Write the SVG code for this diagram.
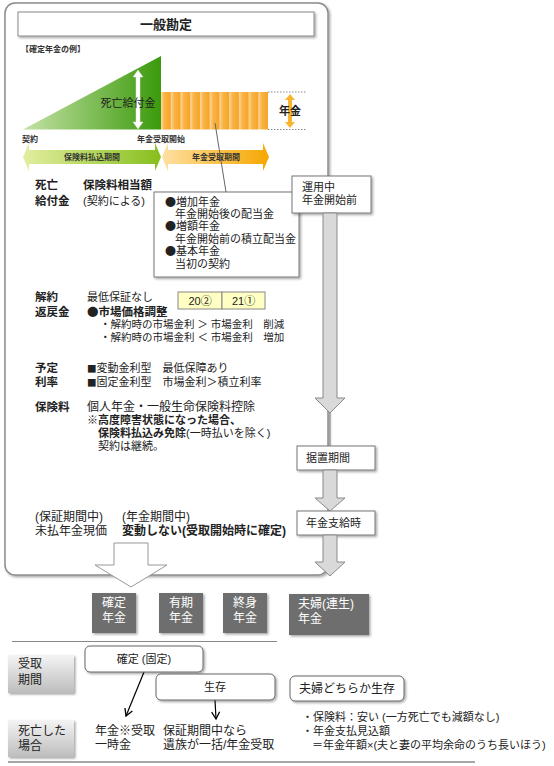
<svg xmlns="http://www.w3.org/2000/svg" width="554" height="766" viewBox="0 0 554 766">
<defs>
<style>
.t{font-family:"Liberation Sans","Noto Sans CJK JP",sans-serif;font-size:11px;fill:#222}
.j{font-family:"Noto Sans CJK JP",sans-serif}
.b{font-weight:bold}
.s{font-size:8px;font-weight:bold;fill:#333}
.w{fill:#fff;font-size:12px}
.box{fill:#fff;stroke:#777;stroke-width:1}
.gbox{fill:#6e6e6e}
.garrow{fill:#d9d9d9;stroke:#8a8a8a;stroke-width:1}
</style>
<filter id="sh" x="-10%" y="-10%" width="130%" height="140%">
<feDropShadow dx="1.5" dy="1.5" stdDeviation="1" flood-color="#000" flood-opacity="0.35"/>
</filter>
<linearGradient id="gTri" x1="0" y1="0" x2="1" y2="0">
<stop offset="0" stop-color="#c5e2a6"/>
<stop offset="1" stop-color="#3b9a0c"/>
</linearGradient>
<linearGradient id="gStripe" x1="0" y1="0" x2="1" y2="0">
<stop offset="0" stop-color="#fdd9a2"/>
<stop offset="0.35" stop-color="#f9b447"/>
<stop offset="1" stop-color="#f6a425"/>
</linearGradient>
<pattern id="pStripe" patternUnits="userSpaceOnUse" x="161" y="0" width="9.73" height="200">
<rect x="0" y="0" width="9.73" height="200" fill="url(#gStripe)"/>
</pattern>
<linearGradient id="gGreenArr" x1="0" y1="0" x2="1" y2="0">
<stop offset="0" stop-color="#e2eea0"/>
<stop offset="1" stop-color="#86bf1c"/>
</linearGradient>
<linearGradient id="gOrArr" x1="0" y1="0" x2="1" y2="0">
<stop offset="0" stop-color="#fde0a2"/>
<stop offset="1" stop-color="#f6a700"/>
</linearGradient>
<linearGradient id="gLabel" x1="0" y1="0" x2="0" y2="1">
<stop offset="0" stop-color="#f4f4f4"/>
<stop offset="1" stop-color="#bdbdbd"/>
</linearGradient>
<marker id="mV" markerWidth="10" markerHeight="10" refX="8" refY="5" orient="auto" markerUnits="userSpaceOnUse">
<path d="M1,1 L8,5 L1,9" fill="none" stroke="#000" stroke-width="1.3"/>
</marker>
</defs>

<g id="main-box">
<rect x="5" y="3" width="323" height="572" rx="10" fill="#fff" stroke="#8c8c8c" stroke-width="1.5" filter="url(#sh)"/>
</g>

<g id="title">
<rect x="18" y="12" width="296" height="24" fill="#fff" stroke="#888" stroke-width="1" filter="url(#sh)"/>
<text class="t b" x="166" y="29" text-anchor="middle" style="font-size:13px">一般勘定</text>
</g>

<g id="chart">
<text class="t s" x="21" y="52">【確定年金の例】</text>
<polygon points="23,129.5 161,56 161,129.5" fill="url(#gTri)"/>
<polygon points="138,70 143,77 140,77 140,122 143,122 138,129 133,122 136,122 136,77 133,77" fill="#fff" stroke="#ddd" stroke-width="0.5"/>
<text class="t" x="128" y="107" text-anchor="middle">死亡給付金</text>
<rect x="161" y="92" width="107" height="37.5" fill="url(#pStripe)"/>
<line x1="268" y1="92" x2="307" y2="92" stroke="#888" stroke-dasharray="1.5,1.5"/>
<line x1="268" y1="129.5" x2="307" y2="129.5" stroke="#888" stroke-dasharray="1.5,1.5"/>
<polygon points="290,94 295,100 292,100 292,122 295,122 290,128 285,122 288,122 288,100 285,100" fill="#f8b530"/>
<text class="t b" x="279" y="115">年金</text>
<text class="t s" x="22" y="142">契約</text>
<text class="t s" x="137" y="142">年金受取開始</text>
<polygon points="23,157 29,143 29,150 155,150 155,143 161,157 155,171 155,164 29,164 29,171" fill="url(#gGreenArr)"/>
<text class="t s" x="92" y="160" text-anchor="middle">保険料払込期間</text>
<polygon points="162,157 168,143 168,150 263,150 263,143 269,157 263,171 263,164 168,164 168,171" fill="url(#gOrArr)"/>
<text class="t s" x="216" y="160" text-anchor="middle">年金受取期間</text>
</g>

<g id="death-benefit">
<text class="t b" x="35" y="189" style="font-size:11.5px">死亡</text>
<text class="t b" x="35" y="205" style="font-size:11.5px">給付金</text>
<text class="t b" x="83" y="189" style="font-size:11.5px">保険料相当額</text>
<text class="t" x="83" y="205">(契約による)</text>
</g>

<g id="bullet-box">
<rect class="box" x="154" y="192" width="145" height="85" filter="url(#sh)"/>
<text class="t" x="165" y="206"><tspan class="j">●</tspan>増加年金</text>
<text class="t" x="175" y="218">年金開始後の配当金</text>
<text class="t" x="165" y="230"><tspan class="j">●</tspan>増額年金</text>
<text class="t" x="175" y="243">年金開始前の積立配当金</text>
<text class="t" x="165" y="255"><tspan class="j">●</tspan>基本年金</text>
<text class="t" x="175" y="268">当初の契約</text>
</g>

<g id="unyo-box">
<rect class="box" x="292" y="176" width="79" height="37" filter="url(#sh)"/>
<text class="t" x="302" y="191">運用中</text>
<text class="t" x="302" y="204">年金開始前</text>
</g>

<g id="surrender">
<text class="t b" x="35" y="301" style="font-size:11.5px">解約</text>
<text class="t b" x="35" y="316" style="font-size:11.5px">返戻金</text>
<text class="t" x="87" y="301">最低保証なし</text>
<text class="t b" x="87" y="316" style="font-size:11.5px"><tspan class="j">●</tspan>市場価格調整</text>
<text class="t" x="100" y="328" style="font-size:10.5px">・解約時の市場金利 ＞ 市場金利　削減</text>
<text class="t" x="100" y="341" style="font-size:10.5px">・解約時の市場金利 ＜ 市場金利　増加</text>
</g>

<g id="tag-20">
<rect x="178" y="292" width="44" height="17" fill="#ffffc4" stroke="#888" stroke-width="1"/>
<text class="t" x="200" y="305" text-anchor="middle">20<tspan class="j">②</tspan></text>
</g>
<g id="tag-21">
<rect x="222" y="292" width="43" height="17" fill="#ffffc4" stroke="#888" stroke-width="1"/>
<text class="t" x="243.5" y="305" text-anchor="middle">21<tspan class="j">①</tspan></text>
</g>

<g id="rate">
<text class="t b" x="35" y="372" style="font-size:11.5px">予定</text>
<text class="t b" x="35" y="386" style="font-size:11.5px">利率</text>
<text class="t" x="87" y="372"><tspan class="j" style="font-size:9.5px">■</tspan>変動金利型　最低保障あり</text>
<text class="t" x="87" y="386"><tspan class="j" style="font-size:9.5px">■</tspan>固定金利型　市場金利＞積立利率</text>
</g>

<g id="premium">
<text class="t b" x="35" y="411" style="font-size:11.5px">保険料</text>
<text class="t" x="87" y="411" style="font-size:12px">個人年金・一般生命保険料控除</text>
<text class="t" x="87" y="424">※<tspan class="b">高度障害状態になった場合、</tspan></text>
<text class="t" x="98" y="437"><tspan class="b">保険料払込み免除</tspan>(一時払いを除く)</text>
<text class="t" x="98" y="450">契約は継続。</text>
</g>

<g id="unpaid">
<text class="t" x="35" y="521" style="font-size:12px">(保証期間中)</text>
<text class="t" x="35" y="535" style="font-size:12px">未払年金現価</text>
<text class="t" x="122" y="521" style="font-size:12px">(年金期間中)</text>
<text class="t b" x="122" y="535" style="font-size:12px">変動しない(受取開始時に確定)</text>
</g>

<g id="sueoki-box">
<rect class="box" x="297" y="446" width="78" height="24" filter="url(#sh)"/>
<text class="t" x="306" y="462">据置期間</text>
</g>

<g id="shikyu-box">
<rect class="box" x="297" y="511" width="78" height="24" filter="url(#sh)"/>
<text class="t" x="306" y="527">年金支給時</text>
</g>

<g id="connectors">
<line x1="215" y1="123" x2="226" y2="192" stroke="#666" stroke-width="1"/>
<path class="garrow" d="M323,213 H337 V398 H345 L330,413 L315,398 H323 Z"/>
<line x1="330" y1="413" x2="330" y2="446" stroke="#888" stroke-width="1"/>
<path class="garrow" d="M323,470 H337 V498 H345 L330,511 L315,498 H323 Z"/>
<path class="garrow" d="M323,535 H337 V562 H345 L330,576 L315,562 H323 Z"/>
<path d="M114,543 H148 V565 H167 L131,587 L95,565 H114 Z" fill="#fff" stroke="#999" stroke-width="1"/>
<line x1="144" y1="672" x2="126" y2="716" stroke="#000" stroke-width="1.2" marker-end="url(#mV)"/>
<line x1="215" y1="700" x2="216" y2="719" stroke="#000" stroke-width="1.2" marker-end="url(#mV)"/>
</g>

<g id="type-kakutei">
<rect class="gbox" x="92" y="593" width="44" height="40" filter="url(#sh)"/>
<text class="t w" x="114" y="607" text-anchor="middle">確定</text>
<text class="t w" x="114" y="622" text-anchor="middle">年金</text>
</g>
<g id="type-yuki">
<rect class="gbox" x="159" y="593" width="44" height="40" filter="url(#sh)"/>
<text class="t w" x="181" y="607" text-anchor="middle">有期</text>
<text class="t w" x="181" y="622" text-anchor="middle">年金</text>
</g>
<g id="type-shushin">
<rect class="gbox" x="223" y="593" width="44" height="40" filter="url(#sh)"/>
<text class="t w" x="245" y="607" text-anchor="middle">終身</text>
<text class="t w" x="245" y="622" text-anchor="middle">年金</text>
</g>
<g id="type-fufu">
<rect class="gbox" x="289" y="594" width="80" height="41" filter="url(#sh)"/>
<text class="t w" x="298" y="608">夫婦(連生)</text>
<text class="t w" x="298" y="623">年金</text>
</g>

<g id="rules">
<line x1="12" y1="641.5" x2="277" y2="641.5" stroke="#888" stroke-width="1"/>
<line x1="8" y1="762" x2="475" y2="762" stroke="#888" stroke-width="1.5"/>
</g>

<g id="label-uketori">
<rect x="8" y="655" width="66" height="38" fill="url(#gLabel)" filter="url(#sh)"/>
<text class="t" x="18" y="668" style="font-size:12px">受取</text>
<text class="t" x="18" y="684" style="font-size:12px">期間</text>
</g>
<g id="label-shibo">
<rect x="8" y="720" width="66" height="37" fill="url(#gLabel)" filter="url(#sh)"/>
<text class="t" x="18" y="735" style="font-size:12px">死亡した</text>
<text class="t" x="18" y="750" style="font-size:12px">場合</text>
</g>

<g id="box-kakutei">
<rect x="85" y="646" width="118" height="26" rx="5" fill="#fff" stroke="#666" stroke-width="1" filter="url(#sh)"/>
<text class="t" x="144" y="663" text-anchor="middle">確定 (固定)</text>
</g>
<g id="box-seizon">
<rect x="156" y="674" width="119" height="26" rx="5" fill="#fff" stroke="#666" stroke-width="1" filter="url(#sh)"/>
<text class="t" x="215" y="691" text-anchor="middle">生存</text>
</g>
<g id="box-fufu">
<rect x="290" y="676" width="114" height="25" rx="5" fill="#fff" stroke="#666" stroke-width="1" filter="url(#sh)"/>
<text class="t" x="347" y="693" text-anchor="middle" style="font-size:12px">夫婦どちらか生存</text>
</g>

<g id="death-texts">
<text class="t" x="95" y="735" style="font-size:12px">年金※受取</text>
<text class="t" x="95" y="749" style="font-size:12px">一時金</text>
<text class="t" x="163" y="735" style="font-size:12px">保証期間中なら</text>
<text class="t" x="163" y="749" style="font-size:12px">遺族が一括/年金受取</text>
<text class="t" x="302" y="721">・保険料：安い (一方死亡でも減額なし)</text>
<text class="t" x="302" y="735">・年金支払見込額</text>
<text class="t" x="312" y="749">＝年金年額×(夫と妻の平均余命のうち長いほう)</text>
</g>
</svg>
